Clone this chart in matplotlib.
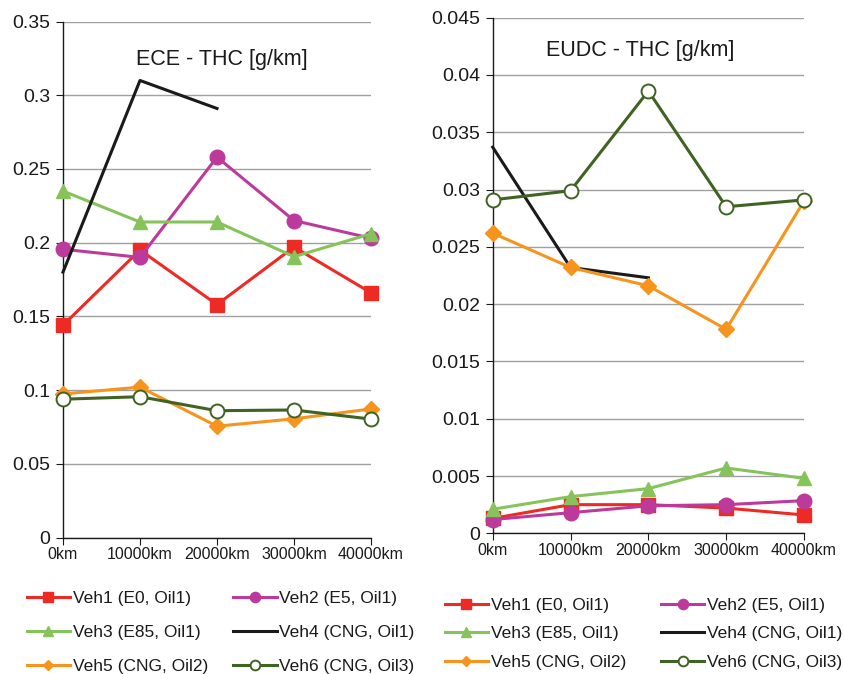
import matplotlib
matplotlib.use("Agg")
import matplotlib.pyplot as plt
import numpy as np

plt.rcParams['font.family'] = ['Liberation Sans', 'DejaVu Sans']

categories = ["0km", "10000km", "20000km", "30000km", "40000km"]
labels = ["Veh1 (E0, Oil1)", "Veh2 (E5, Oil1)", "Veh3 (E85, Oil1)",
          "Veh4 (CNG, Oil1)", "Veh5 (CNG, Oil2)", "Veh6 (CNG, Oil3)"]

ece_veh1 = [0.144, 0.195, 0.158, 0.197, 0.166]
ece_veh2 = [0.1955, 0.190, 0.258, 0.215, 0.203]
ece_veh3 = [0.235, 0.214, 0.214, 0.1905, 0.206]
ece_veh4 = [0.180, 0.310, 0.291, np.nan, np.nan]
ece_veh5 = [0.0974, 0.102, 0.0755, 0.0805, 0.0872]
ece_veh6 = [0.0938, 0.0955, 0.0860, 0.0865, 0.0803]

eudc_veh1 = [0.0013, 0.0025, 0.0025, 0.0022, 0.0016]
eudc_veh2 = [0.0012, 0.0018, 0.0024, 0.0025, 0.00285]
eudc_veh3 = [0.0021, 0.0032, 0.0039, 0.0057, 0.0048]
eudc_veh4 = [0.0337, 0.0232, 0.0223, np.nan, np.nan]
eudc_veh5 = [0.0262, 0.0232, 0.0216, 0.0178, 0.0290]
eudc_veh6 = [0.0291, 0.0299, 0.0386, 0.0285, 0.0291]

colors = ["#EE2A24", "#BC3A9B", "#86C35A", "#1A1A1A", "#F7941D", "#3F6322"]
markers = ["s", "o", "^", None, "D", "o"]
msizes = [10, 10.5, 10.5, 0, 8, 10]

fig = plt.figure(figsize=(8.45, 6.74), dpi=100)
ax1 = fig.add_axes([63/845, 1-537.5/674, (371-63)/845, (537.5-21.5)/674])
ax2 = fig.add_axes([492.7/845, 1-533.3/674, (804-492.7)/845, (533.3-17.7)/674])

x = np.arange(len(categories))

def draw(ax, series, ymax, step, title, tx, ty, fmt):
    handles = []
    for i, s in enumerate(series):
        kw = dict(color=colors[i], lw=2.2, clip_on=False, zorder=3, label=labels[i])
        if markers[i] is not None:
            if i == 5:
                kw.update(marker="o", markersize=msizes[i], markerfacecolor="white",
                          markeredgecolor=colors[i], markeredgewidth=1.4)
            else:
                kw.update(marker=markers[i], markersize=msizes[i],
                          markerfacecolor=colors[i], markeredgecolor=colors[i])
        h, = ax.plot(x, s, **kw)
        handles.append(h)
    ax.set_xlim(0, 4)
    ax.set_ylim(0, ymax)
    yt = np.arange(0, ymax + step/2, step)
    ax.set_yticks(yt)
    ax.set_yticklabels([fmt(v) for v in yt])
    ax.set_xticks(x)
    ax.set_xticklabels(categories)
    for sp in ["top", "right"]:
        ax.spines[sp].set_visible(False)
    ax.spines["left"].set_color("#1A1A1A")
    ax.spines["bottom"].set_color("#1A1A1A")
    ax.spines["left"].set_linewidth(1.0)
    ax.spines["bottom"].set_linewidth(1.0)
    ax.grid(axis="y", color="#A0A0A0", lw=1.0)
    ax.set_axisbelow(True)
    ax.tick_params(axis="y", direction="out", length=5, labelsize=14, colors="#1A1A1A", pad=4)
    ax.tick_params(axis="x", direction="out", length=5, labelsize=11.5, colors="#1A1A1A", pad=2)
    ax.text(tx, ty, title, transform=ax.transAxes, ha="center", va="center",
            fontsize=15.5, color="#1A1A1A")
    return handles

def fmt_gen(v):
    s = ("%.3f" % v).rstrip("0").rstrip(".")
    return s if s else "0"

h1 = draw(ax1, [ece_veh1, ece_veh2, ece_veh3, ece_veh4, ece_veh5, ece_veh6],
          0.35, 0.05, "ECE - THC [g/km]", (222-63)/(371-63), 1-(60-21.5)/516, fmt_gen)
h2 = draw(ax2, [eudc_veh1, eudc_veh2, eudc_veh3, eudc_veh4, eudc_veh5, eudc_veh6],
          0.045, 0.005, "EUDC - THC [g/km]", (640-492.7)/(804-492.7), 1-(50-17.7)/515.6, fmt_gen)

order = [0, 2, 4, 1, 3, 5]
for hs, anchor, ls, cs in [(h1, (11/845, 1-575/674), 1.1, 1.46),
                           (h2, (429/845, 1-582/674), 0.77, 2.02)]:
    leg = fig.legend([hs[i] for i in order], [labels[i] for i in order],
                     ncol=2, loc="upper left", bbox_to_anchor=anchor,
                     frameon=False, fontsize=12.5, markerscale=0.7,
                     handlelength=2.5, handletextpad=0.15, columnspacing=cs,
                     labelspacing=ls)
    for t in leg.get_texts():
        t.set_color("#1A1A1A")

fig.savefig("out.png", dpi=100)
